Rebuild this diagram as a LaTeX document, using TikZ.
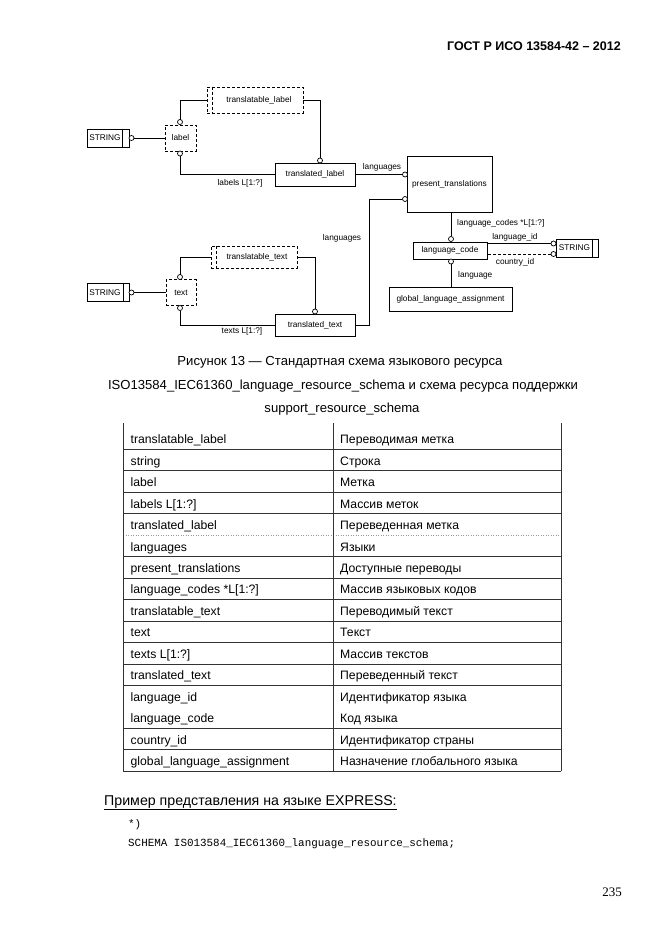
\documentclass[tikz,border=0pt]{standalone}
\usepackage{fontspec}
\setmainfont{Liberation Sans}
\newfontfamily\pnserif{Liberation Serif}
\newfontfamily\codemono{Liberation Mono}
\usetikzlibrary{calc}
\begin{document}
\begin{tikzpicture}[x=1pt,y=-1pt,
  ent/.style={draw, line width=0.8pt, inner sep=0pt, font=\fontsize{8.3}{9}\selectfont},
  dent/.style={ent, dash pattern=on 3pt off 2pt},
  dline/.style={line width=0.8pt, dash pattern=on 3pt off 2pt},
  circ/.style={circle, draw, fill=white, inner sep=0pt, minimum size=5pt, line width=0.7pt},
  lnk/.style={line width=0.7pt},
  lbl/.style={font=\fontsize{8.3}{9}\selectfont, inner sep=0pt},
  tcell/.style={anchor=base west, inner sep=0pt, font=\fontsize{12.2}{14}\selectfont},
  tline/.style={line width=0.6pt, black!80},
  capt/.style={anchor=base, inner sep=0pt, font=\fontsize{13.1}{15}\selectfont}
]
\useasboundingbox[fill=white] (0,0) rectangle (661,935);

% header
\node[anchor=base east, inner sep=0pt, font=\fontsize{12.5}{14}\selectfont\bfseries] (hdr) at (621,50) {ГОСТ Р ИСО 13584-42 – 2012};

% ---------- upper group ----------
\node[dent, minimum width=96pt, minimum height=26pt] (tl) at (255,100) {\hspace*{8pt}translatable\_label};
\draw[dline] ($(tl.north west)+(6,0)$) -- ($(tl.south west)+(6,0)$);
\node[dent, minimum width=31pt, minimum height=26pt] (lab) at (180.5,138) {label};
\node[ent, minimum width=42pt, minimum height=18pt] (s1) at (108,138) {STRING\hspace*{6pt}};
\draw[line width=0.8pt] ($(s1.north east)+(-7,0)$) -- ($(s1.south east)+(-7,0)$);
\node[ent, minimum width=80pt, minimum height=23pt] (trl) at (315,174.5) {translated\_label};
\node[ent, minimum width=85pt, minimum height=56pt] (pt) at (449.5,184) {present\_translations};
\node[ent, minimum width=74pt, minimum height=17pt] (lc) at (450,250.5) {language\_code};
\node[ent, minimum width=123pt, minimum height=24pt] (gla) at (450.5,299) {global\_language\_assignment};
\node[ent, minimum width=42pt, minimum height=18pt] (s3) at (577,248) {STRING\hspace*{5pt}};
\draw[line width=0.8pt] ($(s3.north east)+(-6,0)$) -- ($(s3.south east)+(-6,0)$);

% ---------- lower group ----------
\node[dent, minimum width=86pt, minimum height=22pt] (tt) at (254,257) {\hspace*{6pt}translatable\_text};
\draw[dline] ($(tt.north west)+(6,0)$) -- ($(tt.south west)+(6,0)$);
\node[dent, minimum width=30pt, minimum height=26pt] (txt) at (181,292.5) {text};
\node[ent, minimum width=42pt, minimum height=18pt] (s2) at (108,292.5) {STRING\hspace*{6pt}};
\draw[line width=0.8pt] ($(s2.north east)+(-6,0)$) -- ($(s2.south east)+(-6,0)$);
\node[ent, minimum width=80pt, minimum height=22pt] (trt) at (315,325) {translated\_text};

% ---------- connectors ----------
\draw[lnk] (tl.west) -| (180,119.5) coordinate (k0);
\node[circ] (c1) at (180,122) {};
\draw[lnk] (c1.north) -- (k0);
\node[circ] (c2) at (131.5,138) {};
\draw[lnk] (c2.east) -- (lab.west);
\node[circ] (c3) at (180,153.5) {};
\draw[lnk] (c3.south) |- (trl.west);
\node[lbl] (l1) at (240,183) {labels L[1:?]};
\node[circ] (c4) at (320,160.5) {};
\draw[lnk] (c4.north) |- (tl.east);
\node[circ] (c5) at (405,174.5) {};
\draw[lnk] (trl.east) -- (c5.west);
\node[lbl] (l2) at (382,167) {languages};
\node[circ] (c6) at (405,199) {};
\coordinate (k1) at (369,199);
\draw[lnk] (c6.west) -- (k1) |- (trt.east);
\node[lbl] (l3) at (342,238) {languages};
\node[circ] (c7) at (451,239) {};
\draw[lnk] (c7.north) -- (c7.north |- pt.south);
\node[lbl, anchor=west] (l4) at (457,223) {language\_codes *L[1:?]};
\node[circ] (c8) at (451,261.5) {};
\draw[lnk] (c8.south) -- (c8.south |- gla.north);
\node[lbl, anchor=west] (l5) at (458,275.5) {language};
\node[circ] (c9) at (553.5,243.5) {};
\node[circ] (c10) at (553.5,254) {};
\draw[lnk] (c9.west) -- (c9.west -| lc.east);
\draw[lnk, dash pattern=on 3pt off 2pt] (c10.west) -- (c10.west -| lc.east);
\node[lbl] (l6) at (515,237) {language\_id};
\node[lbl] (l7) at (515,262) {country\_id};

\draw[lnk] (tt.west) -| (180,274.5) coordinate (k2);
\node[circ] (c11) at (180,277) {};
\node[circ] (c12) at (131.5,292.5) {};
\draw[lnk] (c12.east) -- (txt.west);
\node[circ] (c13) at (180,308) {};
\draw[lnk] (c13.south) |- (trt.west);
\node[lbl] (l8) at (242,331) {texts L[1:?]};
\node[circ] (c14) at (315,311.5) {};
\draw[lnk] (c14.north) |- (tt.east);

% ---------- caption ----------
\node[capt] (cap1) at (340,365.5) {Рисунок 13 — Стандартная схема языкового ресурса};
\node[capt] (cap2) at (343,389.5) {ISO13584\_IEC61360\_language\_resource\_schema и схема ресурса поддержки};
\node[capt] (cap3) at (342,412.5) {support\_resource\_schema};

% ---------- table ----------
\foreach \i/\a/\b in {
 0/{translatable\_label}/{Переводимая метка},
 1/{string}/{Строка},
 2/{label}/{Метка},
 3/{labels L[1:?]}/{Массив меток},
 4/{translated\_label}/{Переведенная метка},
 5/{languages}/{Языки},
 6/{present\_translations}/{Доступные переводы},
 7/{language\_codes *L[1:?]}/{Массив языковых кодов},
 8/{translatable\_text}/{Переводимый текст},
 9/{text}/{Текст},
 10/{texts L[1:?]}/{Массив текстов},
 11/{translated\_text}/{Переведенный текст},
 12/{language\_id}/{Идентификатор языка},
 13/{language\_code}/{Код языка},
 14/{country\_id}/{Идентификатор страны},
 15/{global\_language\_assignment}/{Назначение глобального языка}}
{
  \node[tcell] (ta\i) at (130.5,443.7+21.47*\i) {\a};
  \node[tcell] (tb\i) at (340,443.7+21.47*\i) {\b};
}
\foreach \k in {0,1,2,3,5,6,7,8,9,10,11,13,14}
  \draw[tline] (123,449.2+21.47*\k) -- (561,449.2+21.47*\k);
\draw[line width=0.5pt, black!40, dotted] (123,535.1) -- (561,535.1);
\draw[tline] (123,771) -- (561,771);
\draw[tline] (123,423) -- (123,771);
\draw[tline] (333,423) -- (333,771);
\draw[tline] (561,423) -- (561,771);

% ---------- EXPRESS ----------
\node[anchor=base west, inner sep=0pt, font=\fontsize{14.2}{16}\selectfont] (ex) at (104,805) {\underline{Пример представления на языке EXPRESS:}};
\node[anchor=base west, inner sep=0pt, font=\codemono\fontsize{10.9}{12}\selectfont] (ex1) at (128,827) {*)};
\node[anchor=base west, inner sep=0pt, font=\codemono\fontsize{10.9}{12}\selectfont] (ex2) at (128,846) {SCHEMA IS013584\_IEC61360\_language\_resource\_schema;};

% page number
\node[anchor=base east, inner sep=0pt, font=\pnserif\fontsize{13}{15}\selectfont] (pn) at (622,896) {235};
\end{tikzpicture}
\end{document}
